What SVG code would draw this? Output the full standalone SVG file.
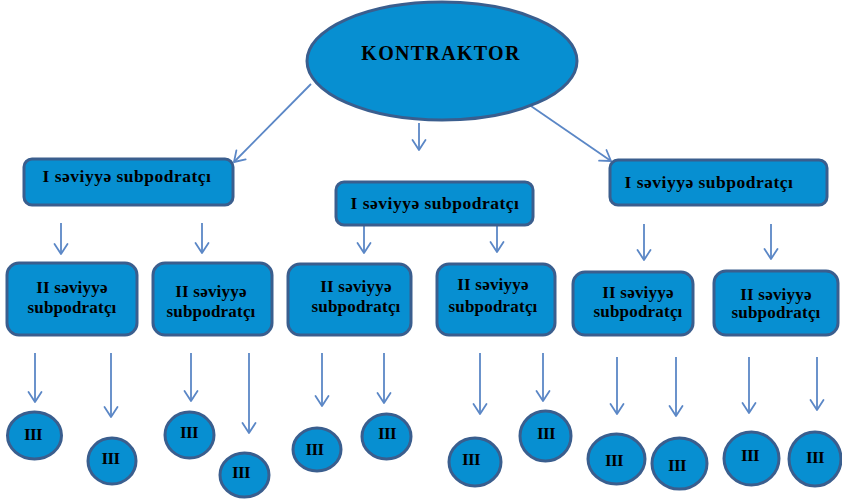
<svg xmlns="http://www.w3.org/2000/svg" width="842" height="499" viewBox="0 0 842 499">
  <defs>
    <marker id="arrow" markerUnits="userSpaceOnUse" markerWidth="24" markerHeight="24" viewBox="-12 -12 24 24" refX="0" refY="0" orient="auto">
      <path d="M-10,-6.5 L0,0 L-10,6.5" fill="none" stroke="#5b87c6" stroke-width="1.8" stroke-linecap="round" stroke-linejoin="round"/>
    </marker>
    <style>
      .shape { fill: #078fd1; stroke: #3a5e8e; stroke-width: 3; }
      .lbl { font-family: "Liberation Serif", "Times New Roman", serif; font-weight: bold; fill: #000; text-anchor: middle; }
      .l1 { font-size: 17.5px; letter-spacing: 0.5px; }
      .l2 { font-size: 17px; letter-spacing: 0.2px; }
      .l3 { font-size: 17px; letter-spacing: -0.6px; }
      .conn line { stroke: #5b87c6; stroke-width: 1.8; marker-end: url(#arrow); }
    </style>
  </defs>

  <rect width="842" height="499" fill="#ffffff"/>

  <!-- connectors -->
  <g id="connectors" class="conn">
    <line x1="311" y1="84" x2="234" y2="162"/>
    <line x1="419" y1="123" x2="419" y2="150"/>
    <line x1="528" y1="104" x2="611" y2="161"/>

    <line x1="61" y1="223" x2="61" y2="254"/>
    <line x1="202" y1="223" x2="202" y2="253"/>
    <line x1="364" y1="225" x2="364" y2="253"/>
    <line x1="497" y1="225" x2="497" y2="252"/>
    <line x1="644" y1="224" x2="644" y2="260"/>
    <line x1="771" y1="224" x2="771" y2="259"/>

    <line x1="35" y1="353" x2="35" y2="402"/>
    <line x1="111" y1="353" x2="111" y2="417"/>
    <line x1="191" y1="353" x2="191" y2="401"/>
    <line x1="249" y1="353" x2="249" y2="433"/>
    <line x1="322" y1="353" x2="322" y2="406"/>
    <line x1="384" y1="353" x2="384" y2="403"/>
    <line x1="480" y1="353" x2="480" y2="414"/>
    <line x1="543" y1="353" x2="543" y2="401"/>
    <line x1="617" y1="357" x2="617" y2="414"/>
    <line x1="676" y1="357" x2="676" y2="416"/>
    <line x1="749" y1="357" x2="749" y2="413"/>
    <line x1="817" y1="357" x2="817" y2="410"/>
  </g>

  <!-- top node -->
  <g id="kontraktor">
    <ellipse class="shape" cx="442" cy="61" rx="135" ry="59"/>
    <text class="lbl" x="441" y="60" font-size="20" letter-spacing="1.3">KONTRAKTOR</text>
  </g>

  <!-- level I -->
  <g id="l1-left">
    <rect class="shape" x="24" y="159" width="209" height="46" rx="8"/>
    <text class="lbl l1" x="127" y="182">I səviyyə subpodratçı</text>
  </g>
  <g id="l1-mid">
    <rect class="shape" x="336" y="182" width="197" height="43" rx="8"/>
    <text class="lbl l1" x="435" y="209">I səviyyə subpodratçı</text>
  </g>
  <g id="l1-right">
    <rect class="shape" x="610" y="160" width="217" height="45" rx="8"/>
    <text class="lbl l1" x="709" y="188">I səviyyə subpodratçı</text>
  </g>

  <!-- level II -->
  <g id="l2-a">
    <rect class="shape" x="7" y="263" width="130" height="72" rx="12"/>
    <text class="lbl l2" x="72" y="293">II səviyyə</text>
    <text class="lbl l2" x="72" y="313">subpodratçı</text>
  </g>
  <g id="l2-b">
    <rect class="shape" x="153" y="263" width="119" height="72" rx="12"/>
    <text class="lbl l2" x="211" y="297">II səviyyə</text>
    <text class="lbl l2" x="211" y="317">subpodratçı</text>
  </g>
  <g id="l2-c">
    <rect class="shape" x="288" y="264" width="123" height="71" rx="12"/>
    <text class="lbl l2" x="356" y="292">II səviyyə</text>
    <text class="lbl l2" x="356" y="312">subpodratçı</text>
  </g>
  <g id="l2-d">
    <rect class="shape" x="437" y="264" width="118" height="71" rx="12"/>
    <text class="lbl l2" x="493" y="290">II səviyyə</text>
    <text class="lbl l2" x="493" y="312">subpodratçı</text>
  </g>
  <g id="l2-e">
    <rect class="shape" x="573" y="272" width="120" height="63" rx="12"/>
    <text class="lbl l2" x="638" y="298">II səviyyə</text>
    <text class="lbl l2" x="638" y="317">subpodratçı</text>
  </g>
  <g id="l2-f">
    <rect class="shape" x="714" y="271" width="124" height="64" rx="12"/>
    <text class="lbl l2" x="776" y="300">II səviyyə</text>
    <text class="lbl l2" x="776" y="318">subpodratçı</text>
  </g>

  <!-- level III -->
  <g id="l3-1"><ellipse class="shape" cx="34.5" cy="435.5" rx="27" ry="23.5"/><text class="lbl l3" x="33" y="440">III</text></g>
  <g id="l3-2"><ellipse class="shape" cx="112" cy="461" rx="24" ry="23"/><text class="lbl l3" x="110.5" y="464">III</text></g>
  <g id="l3-3"><ellipse class="shape" cx="189.5" cy="435" rx="24.5" ry="23"/><text class="lbl l3" x="189" y="438">III</text></g>
  <g id="l3-4"><ellipse class="shape" cx="244.5" cy="475" rx="24.5" ry="22"/><text class="lbl l3" x="241" y="478">III</text></g>
  <g id="l3-5"><ellipse class="shape" cx="317" cy="449.5" rx="24" ry="21.5"/><text class="lbl l3" x="314.5" y="455">III</text></g>
  <g id="l3-6"><ellipse class="shape" cx="386.5" cy="436.5" rx="24.5" ry="22.5"/><text class="lbl l3" x="387" y="439">III</text></g>
  <g id="l3-7"><ellipse class="shape" cx="475" cy="462" rx="26" ry="24"/><text class="lbl l3" x="471" y="465">III</text></g>
  <g id="l3-8"><ellipse class="shape" cx="545.5" cy="436" rx="25.5" ry="25"/><text class="lbl l3" x="546" y="439">III</text></g>
  <g id="l3-9"><ellipse class="shape" cx="616.5" cy="459" rx="28.5" ry="25"/><text class="lbl l3" x="614" y="466">III</text></g>
  <g id="l3-10"><ellipse class="shape" cx="679.5" cy="463.5" rx="27.5" ry="25.5"/><text class="lbl l3" x="677" y="471">III</text></g>
  <g id="l3-11"><ellipse class="shape" cx="751.5" cy="458.5" rx="27.5" ry="26.5"/><text class="lbl l3" x="750" y="461">III</text></g>
  <g id="l3-12"><ellipse class="shape" cx="815" cy="459" rx="26" ry="27"/><text class="lbl l3" x="815" y="463">III</text></g>
</svg>
